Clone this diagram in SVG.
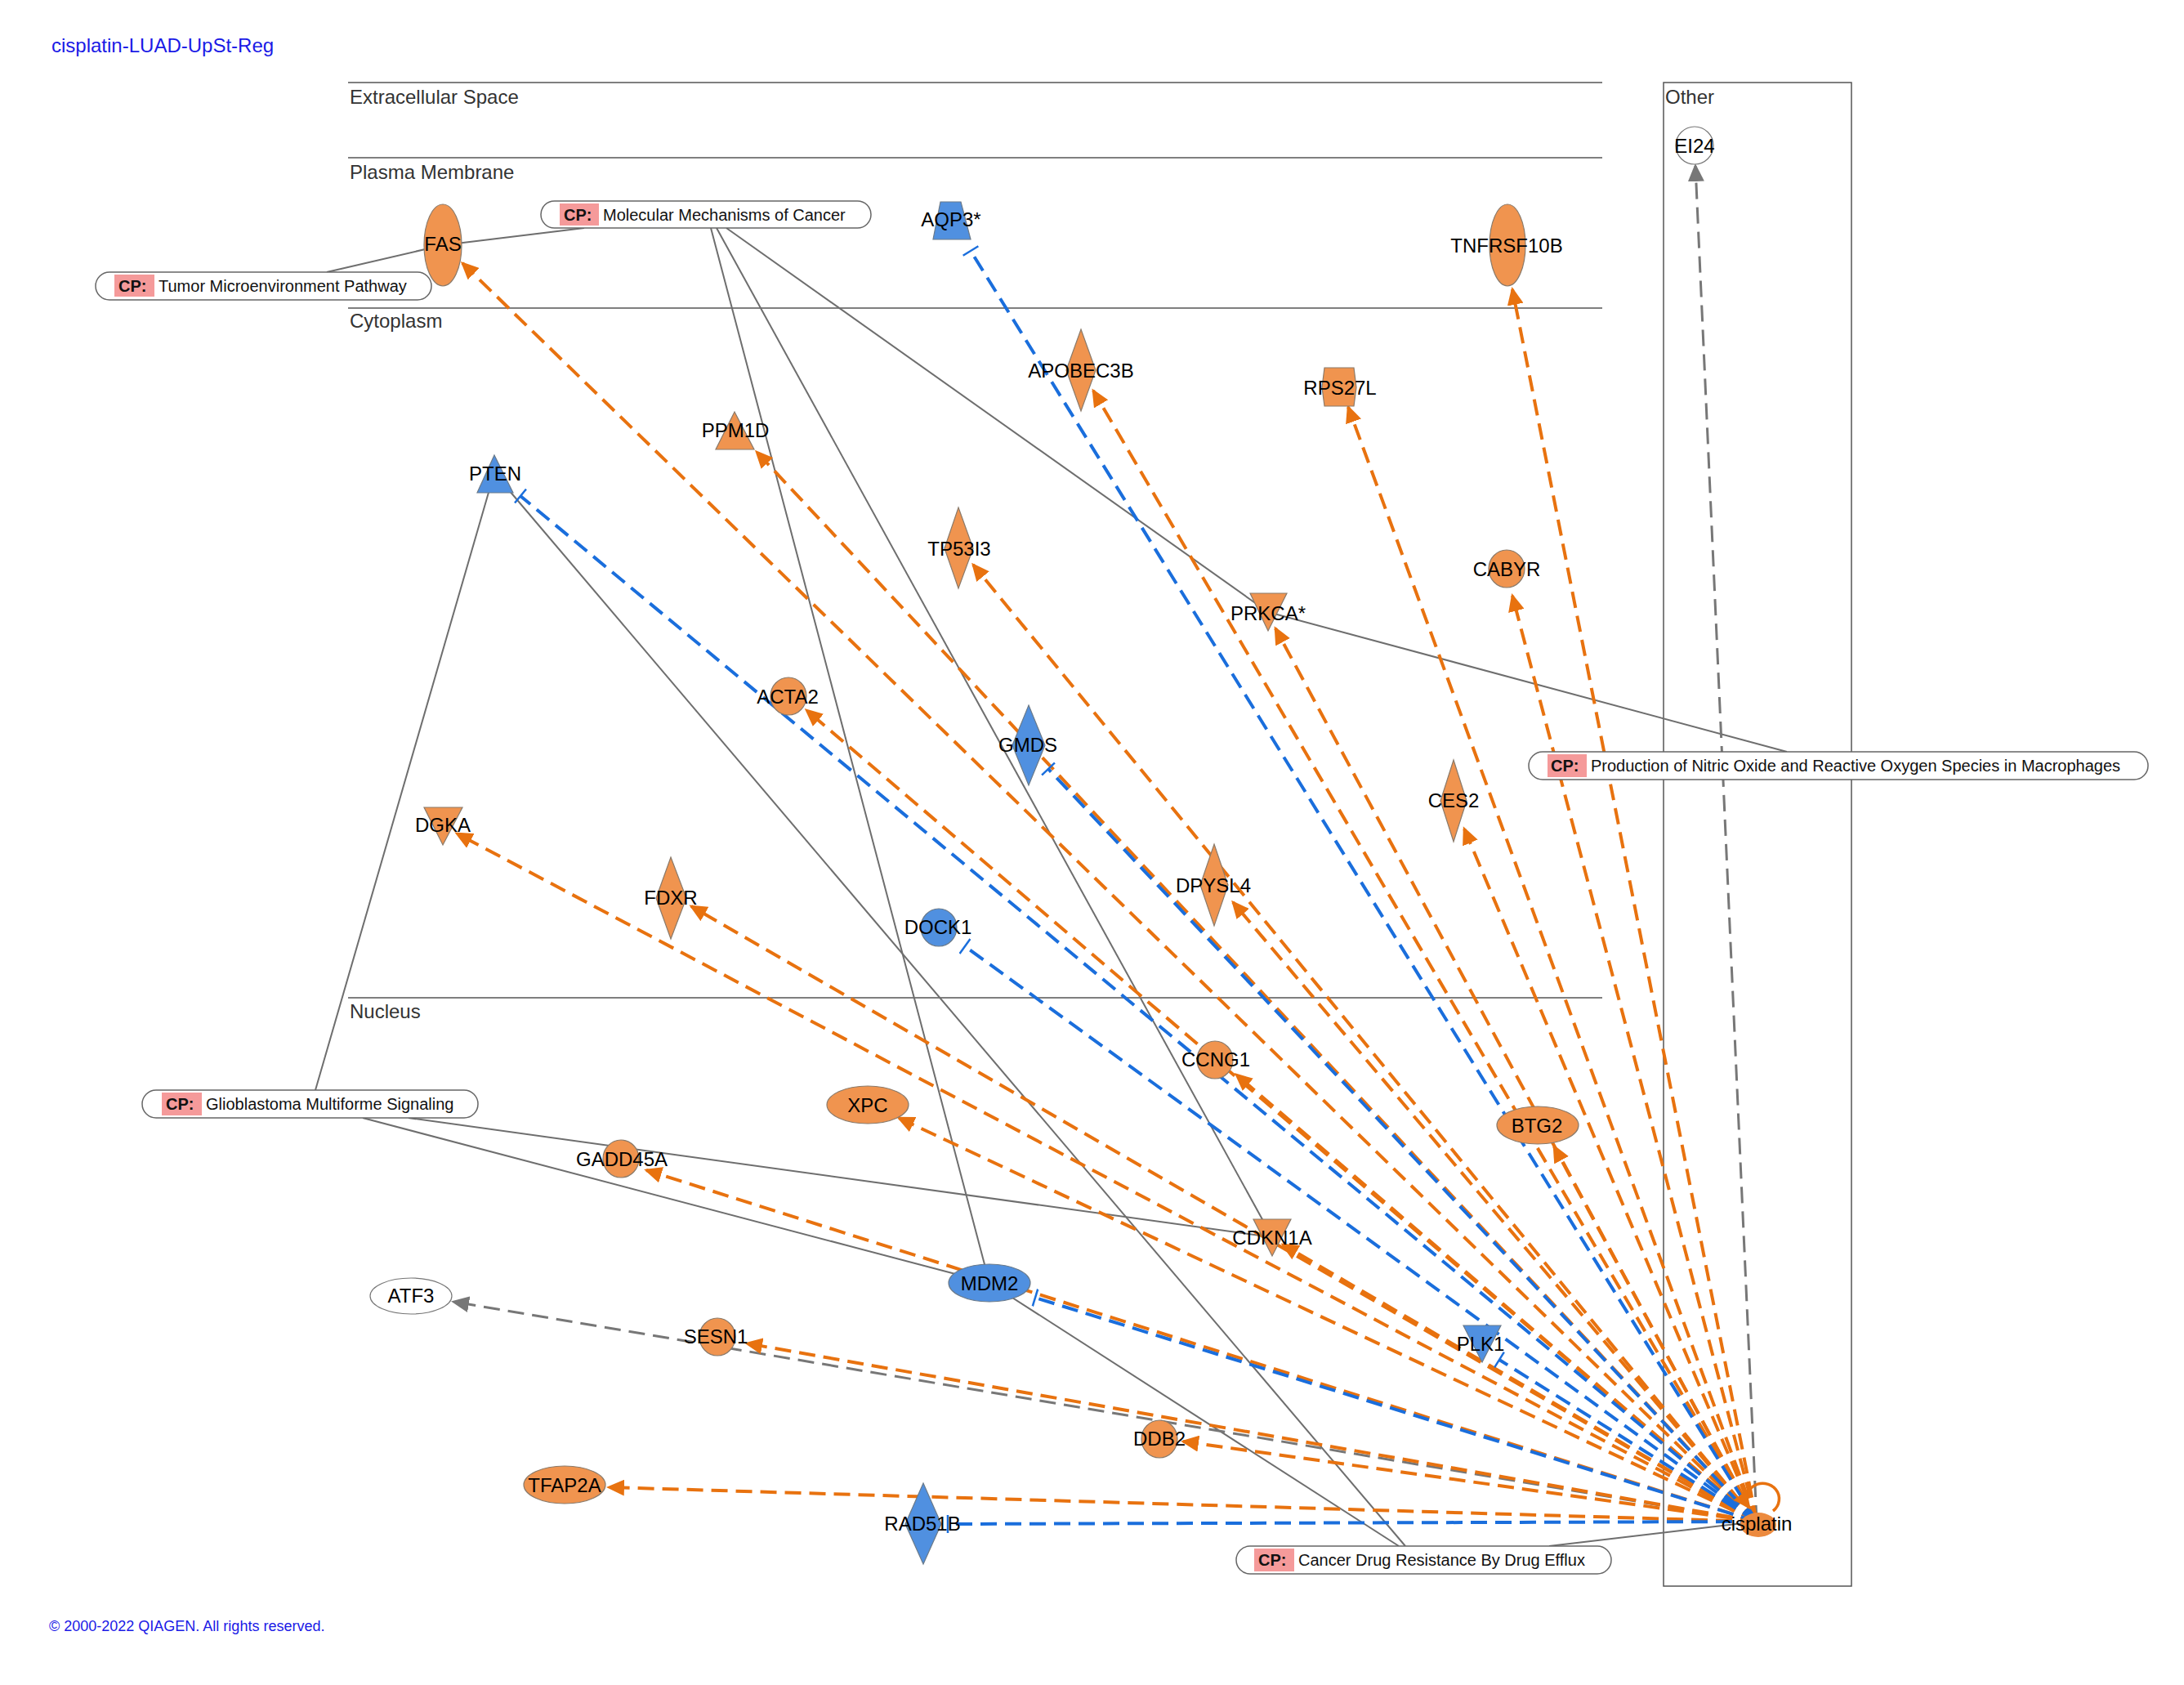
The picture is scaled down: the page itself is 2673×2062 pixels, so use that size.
<svg xmlns="http://www.w3.org/2000/svg" width="2673" height="2062" viewBox="0 0 2673 2062">
<style>
text{font-family:"Liberation Sans",Arial,sans-serif}
.lbl{font-size:24px;fill:#000;text-anchor:middle}
.comp{font-size:24px;fill:#333}
.cpt{font-size:20px;fill:#111}
.cpb{font-size:20px;font-weight:bold;fill:#111}
.pill{fill:#fff;stroke:#666;stroke-width:1.5}
.pink{fill:#F59A9A}
.up{fill:#F0944F;stroke:#8a7a6a;stroke-width:1.2}
.dn{fill:#5090E0;stroke:#6a7a8a;stroke-width:1.2}
.wh{fill:#fff;stroke:#777;stroke-width:1.2}
.cl{stroke:#555;stroke-width:1.5;fill:none}
.sl{stroke:#6e6e6e;stroke-width:2;fill:none}
.eo{stroke:#E8720F;stroke-width:4;stroke-dasharray:20 10;fill:none;marker-end:url(#ao)}
.eb{stroke:#1A6EDC;stroke-width:4;stroke-dasharray:20 10;fill:none;marker-end:url(#bb)}
.eg{stroke:#777;stroke-width:3;stroke-dasharray:20 10;fill:none;marker-end:url(#ag)}
</style>
<defs>
<marker id="ao" markerUnits="userSpaceOnUse" markerWidth="22" markerHeight="20" viewBox="0 0 22 20" refX="19" refY="10" orient="auto"><path d="M0,0 L22,10 L0,20 z" fill="#E8720F"/></marker>
<marker id="ag" markerUnits="userSpaceOnUse" markerWidth="22" markerHeight="20" viewBox="0 0 22 20" refX="19" refY="10" orient="auto"><path d="M0,0 L22,10 L0,20 z" fill="#777"/></marker>
<marker id="bb" markerUnits="userSpaceOnUse" markerWidth="4" markerHeight="22" viewBox="0 0 4 22" refX="2" refY="11" orient="auto"><path d="M2,0 V22" stroke="#1A6EDC" stroke-width="2.5"/></marker>
</defs>
<rect width="2673" height="2062" fill="#fff"/>
<text x="63" y="64" style="font-size:24px;fill:#1a1ae6">cisplatin-LUAD-UpSt-Reg</text>
<text x="60" y="1996" style="font-size:18px;fill:#1a1ae6">© 2000-2022 QIAGEN. All rights reserved.</text>
<g id="compartments">
<line class="cl" x1="426" y1="101" x2="1961" y2="101"/>
<line class="cl" x1="426" y1="193" x2="1961" y2="193"/>
<line class="cl" x1="426" y1="377" x2="1961" y2="377"/>
<line class="cl" x1="426" y1="1221" x2="1961" y2="1221"/>
<rect class="cl" x="2036" y="101" width="230" height="1840"/>
<text class="comp" x="428" y="127">Extracellular Space</text>
<text class="comp" x="428" y="219">Plasma Membrane</text>
<text class="comp" x="428" y="401">Cytoplasm</text>
<text class="comp" x="428" y="1246">Nucleus</text>
<text class="comp" x="2038" y="127">Other</text>
</g>
<g id="connectors">
<line class="sl" x1="715" y1="279" x2="542" y2="300"/>
<line class="sl" x1="400" y1="333" x2="542" y2="300"/>
<line class="sl" x1="870" y1="279" x2="1211" y2="1570"/>
<line class="sl" x1="877" y1="279" x2="1557" y2="1514"/>
<line class="sl" x1="889" y1="279" x2="1552" y2="749"/>
<line class="sl" x1="1552" y1="749" x2="2187" y2="920"/>
<line class="sl" x1="606" y1="575" x2="386" y2="1334"/>
<line class="sl" x1="606" y1="580" x2="1720" y2="1892"/>
<line class="sl" x1="444" y1="1368" x2="1211" y2="1570"/>
<line class="sl" x1="500" y1="1368" x2="1557" y2="1514"/>
<line class="sl" x1="1211" y1="1570" x2="1712" y2="1892"/>
<line class="sl" x1="2150" y1="1862" x2="1896" y2="1892"/>
<line class="eg" x1="2150" y1="1862" x2="2075" y2="203"/>
<line class="eg" x1="2150" y1="1862" x2="555" y2="1593"/>
<line class="eo" x1="2150" y1="1862" x2="566" y2="322"/>
<line class="eo" x1="2150" y1="1862" x2="1851" y2="354"/>
<line class="eo" x1="2150" y1="1862" x2="1338" y2="478"/>
<line class="eo" x1="2150" y1="1862" x2="1650" y2="498"/>
<line class="eo" x1="2150" y1="1862" x2="926" y2="553"/>
<line class="eo" x1="2150" y1="1862" x2="1191" y2="691"/>
<line class="eo" x1="2150" y1="1862" x2="1851" y2="729"/>
<line class="eo" x1="2150" y1="1862" x2="1561" y2="769"/>
<line class="eo" x1="2150" y1="1862" x2="987" y2="869"/>
<line class="eo" x1="2150" y1="1862" x2="1792" y2="1014"/>
<line class="eo" x1="2150" y1="1862" x2="559" y2="1020"/>
<line class="eo" x1="2150" y1="1862" x2="846" y2="1109"/>
<line class="eo" x1="2150" y1="1862" x2="1509" y2="1104"/>
<line class="eo" x1="2150" y1="1862" x2="1513" y2="1315"/>
<line class="eo" x1="2150" y1="1862" x2="1902" y2="1403"/>
<line class="eo" x1="2150" y1="1862" x2="1100" y2="1368"/>
<line class="eo" x1="2150" y1="1862" x2="791" y2="1432"/>
<line class="eo" x1="2150" y1="1862" x2="1570" y2="1523"/>
<line class="eo" x1="2150" y1="1862" x2="914" y2="1644"/>
<line class="eo" x1="2150" y1="1862" x2="1448" y2="1764"/>
<line class="eo" x1="2150" y1="1862" x2="745" y2="1820"/>
<line class="eb" x1="2150" y1="1862" x2="1188" y2="307"/>
<line class="eb" x1="2150" y1="1862" x2="637" y2="607"/>
<line class="eb" x1="2150" y1="1862" x2="1283" y2="941"/>
<line class="eb" x1="2150" y1="1862" x2="1181" y2="1158"/>
<line class="eb" x1="2150" y1="1862" x2="1267" y2="1588"/>
<line class="eb" x1="2150" y1="1862" x2="1835" y2="1664"/>
<line class="eb" x1="2150" y1="1862" x2="1160" y2="1865"/>
<path d="M2170,1849 A20,19 0 1 0 2141,1845" stroke="#E8720F" stroke-width="3.5" fill="none" marker-end="url(#ao)"/>
</g>
<g id="cp-molecular"><rect class="pill" x="662" y="246" width="404" height="33" rx="16.5"/><rect class="pink" x="685" y="249" width="48" height="27"/><text class="cpb" x="690" y="270">CP:</text><text class="cpt" x="738" y="270">Molecular Mechanisms of Cancer</text></g>
<g id="cp-tumor"><rect class="pill" x="117" y="333" width="411" height="34" rx="17"/><rect class="pink" x="140" y="336" width="49" height="27"/><text class="cpb" x="145" y="357">CP:</text><text class="cpt" x="194" y="357">Tumor Microenvironment Pathway</text></g>
<g id="cp-nitric"><rect class="pill" x="1871" y="920" width="758" height="34" rx="17"/><rect class="pink" x="1894" y="923" width="48" height="28"/><text class="cpb" x="1898" y="944">CP:</text><text class="cpt" x="1947" y="944">Production of Nitric Oxide and Reactive Oxygen Species in Macrophages</text></g>
<g id="cp-glioblastoma"><rect class="pill" x="174" y="1334" width="411" height="34" rx="17"/><rect class="pink" x="198" y="1337" width="49" height="28"/><text class="cpb" x="203" y="1358">CP:</text><text class="cpt" x="252" y="1358">Glioblastoma Multiforme Signaling</text></g>
<g id="cp-efflux"><rect class="pill" x="1513" y="1892" width="459" height="34" rx="17"/><rect class="pink" x="1535" y="1895" width="49" height="28"/><text class="cpb" x="1540" y="1916">CP:</text><text class="cpt" x="1589" y="1916">Cancer Drug Resistance By Drug Efflux</text></g>
<g id="FAS"><ellipse class="up" cx="542" cy="300" rx="23" ry="50"/><text class="lbl" x="542" y="307">FAS</text></g>
<g id="AQP3"><path class="dn" d="M1151,247 L1176,247 L1188,293 L1142,293 Z"/><text class="lbl" x="1164" y="277">AQP3*</text></g>
<g id="TNFRSF10B"><ellipse class="up" cx="1845" cy="300" rx="22" ry="50"/><text class="lbl" x="1844" y="309">TNFRSF10B</text></g>
<g id="APOBEC3B"><path class="up" d="M1323,403 L1341,453 L1323,503 L1305,453 Z"/><text class="lbl" x="1323" y="462">APOBEC3B</text></g>
<g id="RPS27L"><path class="up" d="M1621,450 L1657,450 L1660,474 L1657,497 L1621,497 L1618,474 Z"/><text class="lbl" x="1640" y="483">RPS27L</text></g>
<g id="PPM1D"><path class="up" d="M899,504 L923,550 L876,550 Z"/><text class="lbl" x="900" y="535">PPM1D</text></g>
<g id="PTEN"><path class="dn" d="M605,557 L628,603 L584,603 Z"/><text class="lbl" x="606" y="588">PTEN</text></g>
<g id="TP53I3"><path class="up" d="M1173,621 L1191,671 L1173,720 L1156,671 Z"/><text class="lbl" x="1174" y="680">TP53I3</text></g>
<g id="CABYR"><ellipse class="up" cx="1844" cy="696" rx="22" ry="23"/><text class="lbl" x="1844" y="705">CABYR</text></g>
<g id="PRKCA"><path class="up" d="M1530,726 L1575,726 L1552,772 Z"/><text class="lbl" x="1552" y="759">PRKCA*</text></g>
<g id="ACTA2"><ellipse class="up" cx="965" cy="852" rx="22" ry="23"/><text class="lbl" x="964" y="861">ACTA2</text></g>
<g id="GMDS"><path class="dn" d="M1259,863 L1279,912 L1259,961 L1239,912 Z"/><text class="lbl" x="1258" y="920">GMDS</text></g>
<g id="CES2"><path class="up" d="M1779,930 L1795,980 L1779,1030 L1763,980 Z"/><text class="lbl" x="1779" y="988">CES2</text></g>
<g id="DGKA"><path class="up" d="M519,988 L566,988 L542,1034 Z"/><text class="lbl" x="542" y="1018">DGKA</text></g>
<g id="FDXR"><path class="up" d="M821,1049 L840,1099 L821,1149 L803,1099 Z"/><text class="lbl" x="821" y="1107">FDXR</text></g>
<g id="DPYSL4"><path class="up" d="M1486,1033 L1503,1083 L1486,1133 L1469,1083 Z"/><text class="lbl" x="1485" y="1092">DPYSL4</text></g>
<g id="DOCK1"><ellipse class="dn" cx="1149" cy="1135" rx="22" ry="23"/><text class="lbl" x="1148" y="1143">DOCK1</text></g>
<g id="CCNG1"><ellipse class="up" cx="1487" cy="1297" rx="22" ry="23"/><text class="lbl" x="1488" y="1305">CCNG1</text></g>
<g id="BTG2"><ellipse class="up" cx="1882" cy="1377" rx="50" ry="23"/><text class="lbl" x="1881" y="1386">BTG2</text></g>
<g id="XPC"><ellipse class="up" cx="1062" cy="1352" rx="50" ry="23"/><text class="lbl" x="1062" y="1361">XPC</text></g>
<g id="GADD45A"><ellipse class="up" cx="760" cy="1418" rx="22" ry="23"/><text class="lbl" x="761" y="1427">GADD45A</text></g>
<g id="CDKN1A"><path class="up" d="M1534,1492 L1580,1492 L1557,1537 Z"/><text class="lbl" x="1557" y="1523">CDKN1A</text></g>
<g id="MDM2"><ellipse class="dn" cx="1211" cy="1570" rx="50" ry="23"/><text class="lbl" x="1211" y="1579">MDM2</text></g>
<g id="ATF3"><ellipse class="wh" cx="503" cy="1586" rx="50" ry="22"/><text class="lbl" x="503" y="1594">ATF3</text></g>
<g id="SESN1"><ellipse class="up" cx="878" cy="1636" rx="22" ry="23"/><text class="lbl" x="876" y="1644">SESN1</text></g>
<g id="PLK1"><path class="dn" d="M1791,1622 L1837,1622 L1814,1667 Z"/><text class="lbl" x="1812" y="1653">PLK1</text></g>
<g id="DDB2"><ellipse class="up" cx="1419" cy="1761" rx="22" ry="23"/><text class="lbl" x="1419" y="1769">DDB2</text></g>
<g id="TFAP2A"><ellipse class="up" cx="691" cy="1817" rx="50" ry="23"/><text class="lbl" x="691" y="1826">TFAP2A</text></g>
<g id="RAD51B"><path class="dn" d="M1130,1815 L1152,1865 L1130,1914 L1108,1865 Z"/><text class="lbl" x="1129" y="1873">RAD51B</text></g>
<g id="EI24"><ellipse class="wh" cx="2074" cy="178" rx="23" ry="23"/><text class="lbl" x="2074" y="187">EI24</text></g>
<g id="cisplatin"><ellipse cx="2152" cy="1866" rx="22" ry="15" fill="#EC8A3E"/><text class="lbl" x="2150" y="1873">cisplatin</text></g>
</svg>
